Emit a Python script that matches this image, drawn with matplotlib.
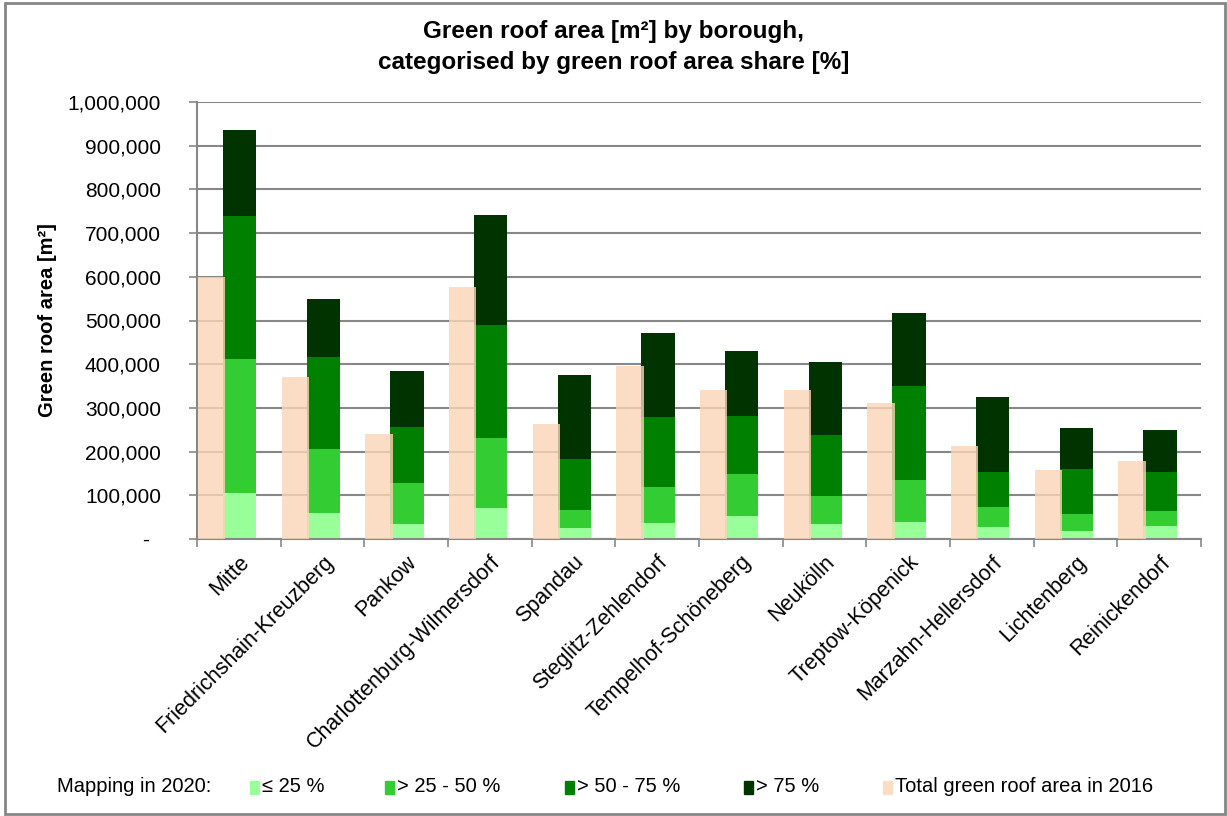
import numpy as np
import matplotlib.pyplot as plt
from matplotlib.patches import Rectangle
from matplotlib.ticker import FuncFormatter

plt.rcParams['font.family'] = ['Liberation Sans', 'DejaVu Sans']

boroughs = ['Mitte', 'Friedrichshain-Kreuzberg', 'Pankow', 'Charlottenburg-Wilmersdorf',
            'Spandau', 'Steglitz-Zehlendorf', 'Tempelhof-Schöneberg', 'Neukölln',
            'Treptow-Köpenick', 'Marzahn-Hellersdorf', 'Lichtenberg', 'Reinickendorf']

# green roof area 2020 [m²] split by green roof share of the building
share_le25 = [106000, 60000, 34000, 72000, 26000, 37000, 53000, 34000, 40000, 27000, 18000, 29000]
share_25_50 = [307000, 147000, 95000, 160000, 41000, 83000, 95000, 64000, 94000, 47000, 40000, 34000]
share_50_75 = [326000, 209000, 127000, 258000, 115000, 159000, 134000, 141000, 217000, 79000, 103000, 90000]
share_gt75 = [196000, 133000, 128000, 251000, 193000, 192000, 149000, 166000, 167000, 173000, 93000, 96000]

# total green roof area 2016 [m²]
total_2016 = [600000, 371000, 241000, 576000, 264000, 396000, 341000, 341000, 312000, 213000, 159000, 178000]

legend_labels = ['≤ 25 %', '> 25 - 50 %', '> 50 - 75 %', '> 75 %', 'Total green roof area in 2016']
greens = ['#99FF99', '#33CC33', '#008000', '#003300']
peach = '#F9D5B6'
grey = '#878787'

W, H = 1227, 816
fig = plt.figure(figsize=(W / 100, H / 100), dpi=100)
ax = fig.add_axes([197 / W, 1 - 539 / H, (1201 - 197) / W, (539 - 102) / H])

x = np.arange(len(boroughs))
bottom = np.zeros(len(boroughs))
for vals, col in zip([share_le25, share_25_50, share_50_75, share_gt75], greens):
    ax.bar(x + 0.31, vals, width=0.40, bottom=bottom, align='edge', color=col, zorder=2)
    bottom += np.array(vals)
ax.bar(x + 0.01, total_2016, width=0.33, align='edge', color=peach, alpha=0.8, zorder=3)

ax.set_xlim(0, len(boroughs))
ax.set_ylim(0, 1000000)
ax.set_yticks(np.arange(0, 1000001, 100000))
ax.yaxis.set_major_formatter(FuncFormatter(lambda v, p: f'{v:,.0f}' if v > 0 else '-  '))
ax.yaxis.grid(True, color=grey, lw=1.5)
ax.set_axisbelow(True)

ax.set_xticks(x + 0.5)
ax.set_xticklabels(boroughs, rotation=45, ha='right', rotation_mode='anchor')
ax.set_xticks(np.arange(len(boroughs) + 1), minor=True)
ax.tick_params(axis='x', which='major', length=0, pad=9, labelsize=15.5)
ax.tick_params(axis='x', which='minor', length=6, width=1.2, color=grey)
ax.tick_params(axis='y', length=6, width=1.2, color=grey, pad=20, labelsize=15)

for s in ['top', 'right']:
    ax.spines[s].set_visible(False)
for s in ['left', 'bottom']:
    ax.spines[s].set_color(grey)
    ax.spines[s].set_linewidth(1.5)

ax.set_ylabel('Green roof area [m²]', fontsize=14.5, fontweight='bold')
ax.yaxis.set_label_coords(-140 / (1201 - 197), 0.5)

fig.text(0.5, 1 - 47 / H, 'Green roof area [m²] by borough,\ncategorised by green roof area share [%]',
         ha='center', va='center', fontsize=17.5, fontweight='bold', linespacing=1.4)

# legend row along the bottom
ly = 787
fig.text(57 / W, 1 - ly / H, 'Mapping in 2020:', va='center', fontsize=14.5)
for lx, lab, col in zip([250, 385, 565, 744, 883], legend_labels, greens + ['#FADDC5']):
    fig.add_artist(Rectangle((lx / W, 1 - (ly + 6.5) / H), 9 / W, 13 / H,
                             transform=fig.transFigure, color=col))
    fig.text((lx + 12) / W, 1 - ly / H, lab, va='center', fontsize=14.5)

fig.add_artist(Rectangle((5 / W, 2 / H), 1220 / W, 1 - 5 / H, transform=fig.transFigure,
                         fill=False, edgecolor='#868686', lw=2))

fig.savefig('out.png', dpi=100)
